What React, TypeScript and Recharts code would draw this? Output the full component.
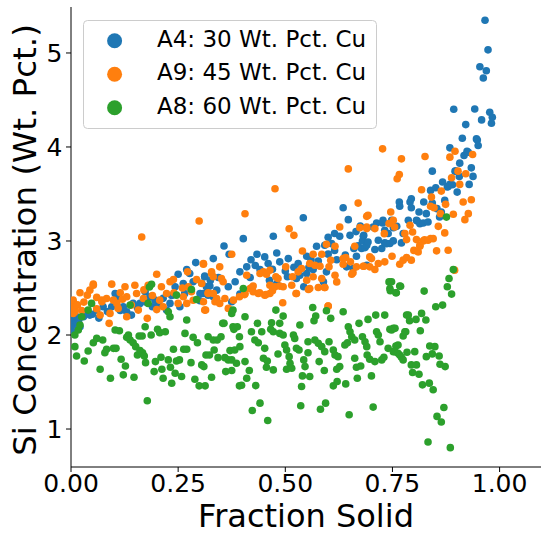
import React from 'react';
import { ScatterChart, Scatter, XAxis, YAxis, Legend } from 'recharts';

// Fraction solid (x) vs Si concentration in Wt. Pct. (y)
const A4_POINTS: [number, number][] = [
  [0.0,2.15],[0.001,2.053],[0.005,2.106],[0.008,2.2],[0.013,2.141],[0.013,2.194],[0.018,2.16],[0.021,2.088],[0.029,2.194],[0.036,2.247],
  [0.044,2.212],[0.05,2.22],[0.06,2.265],[0.065,2.18],[0.075,2.301],[0.085,2.25],[0.095,2.3],[0.103,2.442],[0.107,2.389],[0.115,2.26],
  [0.122,2.301],[0.13,2.248],[0.141,2.212],[0.145,2.336],[0.155,2.29],[0.161,2.336],[0.173,2.46],[0.175,2.35],[0.184,2.407],[0.19,2.3],
  [0.196,2.371],[0.204,2.318],[0.215,2.39],[0.223,2.265],[0.231,2.336],[0.235,2.42],[0.243,2.513],[0.25,2.647],[0.254,2.301],[0.262,2.548],
  [0.265,2.44],[0.27,2.696],[0.277,2.654],[0.28,2.48],[0.285,2.566],[0.291,2.77],[0.301,2.442],[0.301,2.364],[0.305,2.55],[0.309,2.442],
  [0.312,2.619],[0.312,2.626],[0.316,2.513],[0.32,2.424],[0.324,2.52],[0.325,2.58],[0.332,2.813],[0.332,2.407],[0.34,2.477],[0.344,2.612],
  [0.357,2.947],[0.367,2.513],[0.369,2.859],[0.375,2.354],[0.383,2.566],[0.394,2.672],[0.394,2.435],[0.402,3.025],[0.41,2.725],[0.418,2.612],
  [0.42,2.8],[0.43,2.74],[0.434,2.859],[0.441,2.696],[0.452,2.831],[0.46,2.76],[0.463,2.583],[0.47,2.7],[0.472,3.05],[0.48,2.873],
  [0.48,2.548],[0.487,2.778],[0.5,2.68],[0.505,2.619],[0.507,2.813],[0.52,2.72],[0.526,2.601],[0.53,2.76],[0.534,2.636],[0.542,3.248],
  [0.543,2.513],[0.55,2.838],[0.55,2.654],[0.555,2.72],[0.56,2.8],[0.565,2.696],[0.573,2.944],[0.577,2.788],[0.589,2.566],[0.592,2.955],
  [0.596,2.672],[0.6,2.86],[0.6,3.04],[0.608,2.972],[0.615,2.9],[0.615,3.08],[0.62,2.8],[0.627,3.05],[0.635,3.354],[0.64,2.85],
  [0.643,2.725],[0.647,3.227],[0.651,3.06],[0.658,2.707],[0.66,2.92],[0.665,3.1],[0.666,2.838],[0.67,2.95],[0.675,3.16],[0.678,2.92],
  [0.68,3.0],[0.682,3.05],[0.683,3.061],[0.686,2.93],[0.69,2.742],[0.69,2.955],[0.693,2.99],[0.705,3.149],[0.709,2.909],[0.713,3.192],
  [0.717,3.008],[0.725,2.92],[0.727,3.191],[0.728,3.22],[0.732,2.98],[0.732,3.114],[0.736,2.972],[0.74,3.079],[0.744,2.973],[0.748,3.22],
  [0.752,3.001],[0.752,3.142],[0.76,3.156],[0.766,3.414],[0.767,3.369],[0.771,2.98],[0.775,3.079],[0.787,3.22],[0.791,3.414],[0.794,3.45],
  [0.794,3.354],[0.806,3.22],[0.808,3.212],[0.812,3.308],[0.814,3.184],[0.822,3.192],[0.823,3.414],[0.829,3.291],[0.833,3.202],[0.839,3.538],
  [0.843,3.404],[0.843,3.743],[0.851,3.567],[0.854,3.344],[0.86,3.255],[0.864,3.308],[0.867,3.627],[0.872,3.432],[0.878,3.574],[0.88,3.58],
  [0.884,3.602],[0.884,3.991],[0.89,3.598],[0.893,4.401],[0.896,3.743],[0.898,3.743],[0.901,3.52],[0.906,3.687],[0.907,3.828],[0.913,4.093],
  [0.917,3.909],[0.921,4.238],[0.924,3.955],[0.927,3.944],[0.929,3.602],[0.934,3.778],[0.938,3.687],[0.942,4.404],[0.946,4.086],[0.948,4.075],
  [0.95,4.015],[0.954,4.853],[0.958,4.288],[0.962,4.733],[0.966,5.348],[0.969,4.811],[0.973,5.033],[0.977,4.369],[0.981,4.252],[0.983,4.316],
];

const A9_POINTS: [number, number][] = [
  [0.0,2.3],[0.005,2.354],[0.005,2.371],[0.005,2.23],[0.009,2.248],[0.009,2.283],[0.015,2.32],[0.021,2.449],[0.025,2.26],[0.03,2.35],
  [0.038,2.424],[0.044,2.477],[0.052,2.541],[0.052,2.53],[0.06,2.4],[0.06,2.28],[0.068,2.212],[0.072,2.354],[0.072,2.371],[0.083,2.389],
  [0.089,2.124],[0.091,2.23],[0.095,2.541],[0.099,2.371],[0.107,2.336],[0.11,2.283],[0.115,2.45],[0.12,2.38],[0.126,2.513],[0.13,2.407],
  [0.13,2.194],[0.141,2.318],[0.149,2.53],[0.153,2.442],[0.157,2.265],[0.165,3.043],[0.169,2.389],[0.17,2.48],[0.178,2.177],[0.18,2.53],
  [0.19,2.42],[0.2,2.647],[0.2,2.27],[0.207,2.371],[0.211,2.513],[0.215,2.301],[0.223,2.442],[0.231,2.566],[0.239,2.59],[0.24,2.45],
  [0.25,2.336],[0.26,2.5],[0.262,2.407],[0.27,2.336],[0.272,2.672],[0.274,2.513],[0.281,2.46],[0.285,2.37],[0.293,2.59],[0.299,3.212],
  [0.305,2.548],[0.309,2.76],[0.309,2.354],[0.309,2.753],[0.312,2.265],[0.314,2.265],[0.32,2.442],[0.32,2.45],[0.328,2.672],[0.328,2.654],
  [0.332,2.619],[0.332,2.442],[0.336,2.354],[0.34,2.389],[0.347,2.725],[0.347,2.336],[0.351,2.601],[0.355,2.566],[0.359,2.389],[0.367,2.283],
  [0.375,2.859],[0.379,2.371],[0.393,2.407],[0.405,2.43],[0.406,3.29],[0.406,2.442],[0.41,2.636],[0.418,2.495],[0.42,2.5],[0.425,2.52],
  [0.425,2.46],[0.437,2.442],[0.44,2.45],[0.441,2.654],[0.449,2.672],[0.452,2.424],[0.455,2.43],[0.456,2.647],[0.464,2.689],[0.464,2.53],
  [0.464,2.442],[0.47,2.47],[0.476,3.555],[0.476,2.513],[0.478,2.619],[0.483,2.601],[0.487,2.52],[0.494,2.343],[0.495,2.513],[0.501,2.725],
  [0.509,3.131],[0.515,2.53],[0.517,2.619],[0.52,3.06],[0.525,2.442],[0.526,2.442],[0.53,2.672],[0.538,2.707],[0.54,2.894],[0.55,2.583],
  [0.554,2.484],[0.557,2.76],[0.557,2.495],[0.565,2.859],[0.565,2.619],[0.569,2.742],[0.577,2.505],[0.581,2.732],[0.585,2.859],[0.585,2.601],
  [0.592,2.505],[0.592,2.505],[0.596,2.965],[0.6,2.308],[0.6,2.307],[0.602,2.725],[0.606,2.795],[0.616,2.944],[0.616,2.636],[0.62,2.565],
  [0.627,3.149],[0.635,2.813],[0.635,2.753],[0.641,2.824],[0.647,3.767],[0.652,2.778],[0.655,2.647],[0.658,2.661],[0.662,2.944],[0.666,2.725],
  [0.67,3.403],[0.674,3.142],[0.682,2.732],[0.683,2.732],[0.69,3.262],[0.69,3.149],[0.69,3.132],[0.693,3.273],[0.697,2.831],[0.697,2.725],
  [0.701,2.813],[0.709,2.697],[0.709,3.132],[0.717,2.76],[0.727,3.98],[0.731,3.078],[0.732,2.778],[0.742,3.185],[0.746,3.308],[0.749,2.838],
  [0.752,3.22],[0.755,3.149],[0.761,3.662],[0.766,3.708],[0.767,2.753],[0.771,3.874],[0.775,2.796],[0.779,3.079],[0.783,3.015],[0.783,2.824],
  [0.791,3.167],[0.794,2.796],[0.797,3.096],[0.8,2.9],[0.806,3.015],[0.81,2.884],[0.814,2.955],[0.814,2.944],[0.818,3.545],[0.822,3.001],
  [0.825,3.014],[0.826,3.899],[0.833,3.008],[0.839,3.369],[0.839,3.026],[0.841,3.467],[0.845,3.025],[0.847,3.354],[0.853,2.895],[0.857,3.156],
  [0.862,3.291],[0.864,3.531],[0.872,3.086],[0.874,3.39],[0.88,2.902],[0.884,3.892],[0.888,3.673],[0.892,3.284],[0.895,2.69],[0.896,3.955],
  [0.903,3.743],[0.907,3.602],[0.915,3.414],[0.919,3.227],[0.921,3.715],[0.927,3.291],[0.934,3.439],[0.937,3.92],
];

const A8_POINTS: [number, number][] = [
  [0.009,1.876],[0.009,2.0],[0.013,1.777],[0.017,2.053],[0.021,2.106],[0.025,2.194],[0.031,1.724],[0.04,1.83],[0.04,2.265],[0.048,2.336],
  [0.052,1.918],[0.06,1.964],[0.068,1.636],[0.074,1.947],[0.079,1.812],[0.083,1.848],[0.092,1.54],[0.099,1.858],[0.103,2.053],[0.105,1.858],
  [0.113,2.046],[0.117,1.742],[0.122,1.576],[0.127,1.671],[0.13,1.975],[0.134,2.0],[0.138,1.947],[0.138,2.318],[0.145,1.918],[0.147,1.551],
  [0.151,1.876],[0.155,1.788],[0.159,1.989],[0.161,1.834],[0.166,1.989],[0.167,1.812],[0.171,1.777],[0.173,2.088],[0.174,1.706],[0.178,1.3],
  [0.18,2.336],[0.183,2.51],[0.187,2.0],[0.188,2.54],[0.194,1.611],[0.197,1.717],[0.202,2.06],[0.207,2.025],[0.21,1.763],[0.212,1.636],
  [0.215,1.54],[0.22,2.035],[0.227,1.735],[0.227,2.247],[0.231,2.194],[0.232,1.657],[0.235,1.487],[0.239,1.848],[0.243,1.593],[0.246,1.724],
  [0.246,2.424],[0.253,1.735],[0.258,1.558],[0.263,1.848],[0.266,2.017],[0.27,1.848],[0.27,2.159],[0.28,1.706],[0.281,2.484],[0.285,1.975],
  [0.289,1.53],[0.293,2.378],[0.295,1.918],[0.299,1.459],[0.305,1.682],[0.31,1.664],[0.313,1.459],[0.315,1.788],[0.32,1.982],[0.323,1.788],
  [0.328,1.551],[0.332,1.947],[0.334,1.841],[0.341,1.947],[0.343,1.759],[0.35,1.982],[0.354,2.124],[0.357,2.124],[0.359,1.759],[0.361,1.611],
  [0.367,1.735],[0.371,1.834],[0.375,1.622],[0.375,1.735],[0.375,2.23],[0.378,2.088],[0.378,2.265],[0.38,2.06],[0.382,1.841],[0.386,1.7],
  [0.388,2.088],[0.393,1.459],[0.393,1.982],[0.394,1.876],[0.398,1.466],[0.402,2.495],[0.406,2.194],[0.406,1.717],[0.41,1.54],[0.416,1.622],
  [0.421,2.035],[0.423,1.197],[0.429,1.947],[0.431,1.462],[0.435,2.124],[0.437,1.918],[0.441,1.275],[0.445,2.035],[0.449,1.752],[0.452,1.858],
  [0.456,1.657],[0.458,1.724],[0.459,1.091],[0.466,2.06],[0.468,2.13],[0.472,2.035],[0.472,1.629],[0.478,2.265],[0.483,1.798],[0.487,2.124],
  [0.487,2.017],[0.495,2.201],[0.495,2.0],[0.499,1.894],[0.503,1.841],[0.503,1.636],[0.509,1.77],[0.511,1.7],[0.515,1.646],[0.519,2.0],
  [0.522,1.964],[0.526,1.858],[0.532,1.841],[0.534,2.106],[0.536,1.247],[0.538,1.452],[0.54,1.565],[0.543,1.735],[0.546,1.664],[0.553,1.812],
  [0.553,1.929],[0.557,1.558],[0.564,2.293],[0.567,2.152],[0.569,1.947],[0.571,2.201],[0.577,1.911],[0.579,1.717],[0.582,1.211],[0.585,1.876],
  [0.591,1.622],[0.592,1.823],[0.594,1.275],[0.596,2.258],[0.602,1.929],[0.606,2.177],[0.612,1.841],[0.612,1.459],[0.616,1.788],[0.62,1.636],
  [0.621,1.505],[0.623,1.77],[0.627,1.664],[0.635,2.247],[0.639,1.894],[0.641,1.48],[0.645,1.918],[0.647,2.088],[0.649,1.151],[0.651,2.035],
  [0.655,1.982],[0.662,1.947],[0.662,1.752],[0.666,1.657],[0.668,1.54],[0.672,2.124],[0.676,1.671],[0.68,1.982],[0.686,1.929],[0.69,1.876],
  [0.691,1.788],[0.693,2.166],[0.697,1.742],[0.701,1.565],[0.705,1.233],[0.709,1.717],[0.711,2.212],[0.713,2.035],[0.717,2.0],[0.721,1.929],
  [0.725,1.735],[0.73,1.763],[0.732,2.212],[0.74,1.858],[0.742,2.565],[0.744,2.495],[0.744,2.06],[0.745,2.47],[0.748,2.053],[0.748,2.566],
  [0.752,2.071],[0.752,1.823],[0.756,1.823],[0.756,2.071],[0.758,1.883],[0.758,2.449],[0.759,2.449],[0.763,1.806],[0.763,1.894],[0.767,2.52],
  [0.767,1.788],[0.769,2.519],[0.771,1.763],[0.775,1.735],[0.775,1.989],[0.779,2.035],[0.781,2.035],[0.783,2.212],[0.784,1.816],[0.787,2.212],
  [0.79,2.152],[0.794,1.682],[0.797,1.601],[0.802,1.823],[0.805,2.166],[0.806,1.682],[0.812,1.583],[0.815,2.046],[0.818,2.23],[0.82,1.47],
  [0.824,2.467],[0.828,2.159],[0.829,1.77],[0.833,0.862],[0.836,1.488],[0.837,1.883],[0.843,1.799],[0.845,1.417],[0.849,1.876],[0.851,2.3],
  [0.854,1.134],[0.859,1.777],[0.861,1.689],[0.864,1.074],[0.867,2.318],[0.87,1.229],[0.873,1.664],[0.876,3.254],[0.878,2.513],[0.882,2.601],
  [0.885,0.802],[0.888,2.435],[0.892,2.696],
];

const X_TICKS = [0, 0.25, 0.5, 0.75, 1.0];
const Y_TICKS = [1, 2, 3, 4, 5];
const X_DOMAIN: [number, number] = [0, 1.0966];
const Y_DOMAIN: [number, number] = [0.596, 5.489];

const SERIES = [
  { name: 'A4: 30 Wt. Pct. Cu', color: '#1f77b4', points: A4_POINTS },
  { name: 'A9: 45 Wt. Pct. Cu', color: '#ff7f0e', points: A9_POINTS },
  { name: 'A8: 60 Wt. Pct. Cu', color: '#2ca02c', points: A8_POINTS },
];

const FONT = '"DejaVu Sans", sans-serif';

const dot = (color: string) => (props: any) => {
  if (props.cx == null || props.cy == null) return <g />;
  return <circle cx={props.cx} cy={props.cy} r={3.8} fill={color} />;
};

const LegendBox = () => (
  <svg width={294} height={109} style={{ display: 'block', overflow: 'visible' }}>
    <rect x={0.5} y={0.5} width={293} height={108} rx={4} ry={4} fill="rgba(255,255,255,0.8)" stroke="#cccccc" strokeWidth={1} />
    {SERIES.map((s, i) => (
      <g key={s.name}>
        <circle cx={31.6} cy={20.7 + i * 33.5} r={7.5} fill={s.color} />
        <text x={74} y={27 + i * 33.4} fontSize={23} fontFamily={FONT} fill="#000">{s.name}</text>
      </g>
    ))}
  </svg>
);

const YLabel = (props: any) => {
  const vb = props.viewBox || { x: 0, y: 7, width: 71, height: 460 };
  const cx = vb.x + 36;
  const cy = vb.y + vb.height / 2 + 3;
  return (
    <text x={cx} y={cy} transform={`rotate(-90, ${cx}, ${cy})`} textAnchor="middle" fontSize={32.5} fontFamily={FONT} fill="#000">
      Si Concentration (Wt. Pct.)
    </text>
  );
};

const XLabel = (props: any) => {
  const vb = props.viewBox || { x: 71, y: 467, width: 470, height: 68 };
  return (
    <text x={vb.x + vb.width / 2} y={vb.y + 60} textAnchor="middle" fontSize={32} fontFamily={FONT} fill="#000">
      Fraction Solid
    </text>
  );
};

export default function App() {
  return (
    <div style={{ position: 'absolute', left: 0, top: 0, width: 541, height: 535, background: '#fff' }}>
      <ScatterChart width={541} height={535} margin={{ top: 7, right: 0, bottom: 0, left: 0 }} style={{ fontFamily: FONT }}>
        <XAxis
          xAxisId={0}
          type="number"
          dataKey="x"
          domain={X_DOMAIN}
          ticks={X_TICKS}
          allowDataOverflow
          height={68}
          tickFormatter={(v: number) => v.toFixed(2)}
          tick={{ fontSize: 25, fill: '#000', fontFamily: FONT }}
          tickSize={5}
          tickMargin={2}
          stroke="#000"
          axisLine={{ stroke: '#000', strokeWidth: 1 }}
          tickLine={{ stroke: '#000', strokeWidth: 1 }}
          label={<XLabel />}
        />
        <XAxis
          xAxisId="top"
          orientation="top"
          type="number"
          dataKey="x"
          domain={X_DOMAIN}
          allowDataOverflow
          height={0}
          tick={false}
          tickLine={false}
          axisLine={{ stroke: '#000', strokeWidth: 1 }}
        />
        <YAxis
          type="number"
          dataKey="y"
          domain={Y_DOMAIN}
          ticks={Y_TICKS}
          allowDataOverflow
          width={71}
          tick={{ fontSize: 25, fill: '#000', fontFamily: FONT }}
          tickSize={5}
          tickMargin={3.5}
          stroke="#000"
          axisLine={{ stroke: '#000', strokeWidth: 1 }}
          tickLine={{ stroke: '#000', strokeWidth: 1 }}
          label={<YLabel />}
        />
        <Legend
          layout="horizontal"
          verticalAlign="middle"
          align="center"
          wrapperStyle={{ position: 'absolute', left: 82.5, top: 19.5, width: 294, height: 109 }}
          content={() => <LegendBox />}
        />
        {SERIES.map((s) => (
          <Scatter
            key={s.name}
            name={s.name}
            data={s.points.map(([x, y]) => ({ x, y }))}
            fill={s.color}
            shape={dot(s.color)}
            isAnimationActive={false}
          />
        ))}
      </ScatterChart>
    </div>
  );
}
